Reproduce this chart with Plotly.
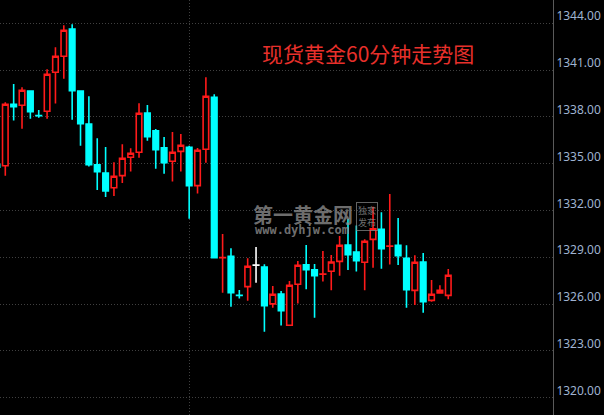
import plotly.graph_objects as go

# ---- data ----
idx = list(range(-1, 54))
opens = [1334.92, 1334.87, 1338.81, 1338.74, 1339.66, 1338.08, 1338.36, 1340.86, 1341.88, 1343.62,
         1339.66, 1337.54, 1334.92, 1334.40, 1333.46, 1334.23, 1335.41, 1335.73, 1338.25, 1337.10,
         1336.01, 1335.15, 1335.79, 1336.05, 1333.59, 1335.92, 1339.26, 1328.97, 1329.06, 1326.56,
         1327.12, 1328.49, 1328.38, 1326.01, 1326.65, 1324.64, 1327.27, 1328.51, 1328.19, 1327.91,
         1328.10, 1328.74, 1329.79, 1329.34, 1328.68, 1330.15, 1330.79, 1329.71, 1329.77, 1328.94,
         1326.88, 1328.70, 1326.24, 1326.71, 1326.56]
highs = [1335.00, 1338.94, 1340.11, 1339.90, 1339.66, 1338.44, 1341.05, 1342.46, 1343.87, 1343.94,
         1339.66, 1339.32, 1336.63, 1336.07, 1335.09, 1336.24, 1335.99, 1338.87, 1338.76, 1337.22,
         1336.71, 1337.03, 1336.90, 1336.15, 1336.01, 1340.54, 1339.45, 1330.49, 1329.58, 1326.90,
         1328.94, 1329.66, 1328.55, 1327.16, 1326.84, 1327.48, 1328.76, 1329.79, 1328.57, 1329.40,
         1329.15, 1330.37, 1331.46, 1331.03, 1330.15, 1332.24, 1331.88, 1333.06, 1331.52, 1329.77,
         1329.13, 1329.28, 1327.54, 1327.21, 1328.25]
lows = [1334.70, 1334.23, 1337.76, 1337.24, 1337.88, 1337.95, 1337.88, 1338.85, 1340.45, 1337.82,
        1336.15, 1334.81, 1333.31, 1332.87, 1332.93, 1333.76, 1334.49, 1335.38, 1336.47, 1334.68,
        1334.36, 1333.85, 1334.49, 1331.47, 1333.08, 1335.06, 1328.97, 1326.73, 1325.83, 1326.35,
        1326.22, 1327.37, 1324.23, 1325.77, 1324.62, 1324.64, 1326.03, 1326.95, 1325.13, 1327.44,
        1326.88, 1327.82, 1328.19, 1328.08, 1326.88, 1328.33, 1328.27, 1328.53, 1328.51, 1325.77,
        1325.94, 1325.45, 1326.15, 1326.71, 1326.31]
closes = [1334.78, 1338.81, 1338.65, 1339.71, 1338.33, 1338.07, 1340.73, 1341.88, 1343.55, 1339.68,
          1337.56, 1334.94, 1334.49, 1333.25, 1334.19, 1335.35, 1335.67, 1338.23, 1336.73, 1335.90,
          1335.06, 1335.73, 1336.18, 1333.59, 1335.86, 1339.32, 1328.97, 1328.98, 1326.73, 1326.55,
          1328.42, 1328.49, 1325.90, 1326.63, 1325.58, 1327.21, 1328.49, 1328.21, 1327.82, 1327.92,
          1328.70, 1329.77, 1329.17, 1328.78, 1330.03, 1330.83, 1329.55, 1329.72, 1329.10, 1326.92,
          1328.68, 1326.15, 1326.63, 1326.88, 1327.85]

# neutral (white) doji candles
neutral_idx = [30]

tick_vals = [1320, 1323, 1326, 1329, 1332, 1335, 1338, 1341, 1344]
tick_text = ["1320.00", "1323.00", "1326.00", "1329.00", "1332.00", "1335.00", "1338.00", "1341.00", "1344.00"]
vgrid_vals = [22]

title_text = "现货黄金60分钟走势图"
wm_main = "第一黄金网"
wm_url = "www.dyhjw.com"
wm_box = "独家<br>发布"

RED = "#ff1a1a"
CYAN = "#00ffff"
GRID = "#404040"
WM = "rgba(140,140,140,0.8)"

# split into coloured and neutral candles
col_x, col_o, col_h, col_l, col_c = [], [], [], [], []
neu_x, neu_o, neu_h, neu_l, neu_c = [], [], [], [], []
for i, o, h, l, c in zip(idx, opens, highs, lows, closes):
    if i in neutral_idx:
        neu_x.append(i); neu_o.append(o); neu_h.append(h); neu_l.append(l); neu_c.append(c + 0.01)
    else:
        col_x.append(i); col_o.append(o); col_h.append(h); col_l.append(l); col_c.append(c)

fig = go.Figure()
fig.add_trace(go.Candlestick(
    x=col_x, open=col_o, high=col_h, low=col_l, close=col_c,
    increasing=dict(line=dict(color=RED, width=1.6), fillcolor="#000000"),
    decreasing=dict(line=dict(color=CYAN, width=1.6), fillcolor=CYAN),
    whiskerwidth=0, showlegend=False, hoverinfo="skip",
))
fig.add_trace(go.Candlestick(
    x=neu_x, open=neu_o, high=neu_h, low=neu_l, close=neu_c,
    increasing=dict(line=dict(color="#ffffff", width=1.6), fillcolor="#ffffff"),
    decreasing=dict(line=dict(color="#ffffff", width=1.6), fillcolor="#ffffff"),
    whiskerwidth=0, showlegend=False, hoverinfo="skip",
))

W, H = 604, 415
R = 51
PW = W - R

fig.update_layout(
    width=W, height=H,
    margin=dict(l=0, r=R, t=0, b=0),
    paper_bgcolor="#000000", plot_bgcolor="#000000",
    boxgap=0.3, boxgroupgap=0.05,
    showlegend=False,
    xaxis=dict(
        range=[-0.634, 65.53], rangeslider=dict(visible=False),
        tickvals=vgrid_vals, showticklabels=False, ticks="",
        showgrid=True, gridcolor=GRID, griddash="1px,2px", gridwidth=1,
        zeroline=False, showline=False, fixedrange=True,
    ),
    yaxis=dict(
        range=[1318.89, 1345.49], side="right",
        tickvals=tick_vals, ticktext=tick_text, ticks="",
        showgrid=True, gridcolor=GRID, griddash="1px,2px", gridwidth=1,
        showline=True, linecolor="#5a5a5a", linewidth=1,
        zeroline=False, ticklabelshift=-7, ticklabelstandoff=0,
        tickfont=dict(family="Noto Sans, DejaVu Sans, sans-serif", size=12, color="#9fb3d1"),
        fixedrange=True,
    ),
    font=dict(family="Noto Sans CJK SC, Noto Sans, sans-serif"),
)

def px(xp):
    return xp / PW

def py(yp):
    return 1 - yp / H

fig.add_annotation(text=title_text, x=px(367.5), y=py(53), xref="paper", yref="paper",
                   showarrow=False, xanchor="center", yanchor="middle",
                   font=dict(family="Noto Sans CJK SC", size=21, color="#e8302b"))
fig.add_annotation(text="<b>" + wm_main + "</b>", x=px(302.5), y=py(214), xref="paper", yref="paper",
                   showarrow=False, xanchor="center", yanchor="middle",
                   font=dict(family="Noto Sans CJK SC", size=20, color=WM))
fig.add_annotation(text="<b>" + wm_url + "</b>", x=px(302), y=py(230), xref="paper", yref="paper",
                   showarrow=False, xanchor="center", yanchor="middle",
                   font=dict(family="DejaVu Sans Mono", size=12, color=WM))
fig.add_annotation(text=wm_box, x=px(367), y=py(216), xref="paper", yref="paper",
                   showarrow=False, xanchor="center", yanchor="middle",
                   bordercolor="rgba(140,140,140,0.7)", borderwidth=1, borderpad=1,
                   font=dict(family="Noto Sans CJK SC", size=9, color=WM))

fig.write_html("out.html", config={"displayModeBar": False},
               post_script="document.body.style.margin='0';document.body.style.background='#000';")
